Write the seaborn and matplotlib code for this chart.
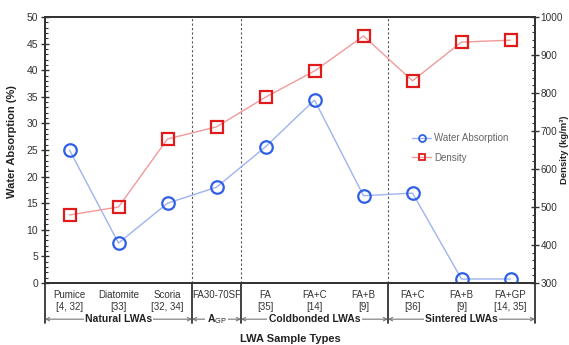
import matplotlib
matplotlib.use("Agg")
import matplotlib.pyplot as plt
import matplotlib.transforms as mtransforms
from matplotlib.lines import Line2D
from matplotlib.ticker import MultipleLocator, FixedLocator
import seaborn as sns
import pandas as pd

categories = ["Pumice\n[4, 32]", "Diatomite\n[33]", "Scoria\n[32, 34]", "FA30-70SF",
              "FA\n[35]", "FA+C\n[14]", "FA+B\n[9]", "FA+C\n[36]", "FA+B\n[9]", "FA+GP\n[14, 35]"]
water_absorption = [25.0, 7.5, 15.0, 18.0, 25.6, 34.4, 16.4, 16.9, 0.75, 0.75]
density = [479, 500, 679, 711, 789, 858, 950, 832, 934, 939]
groups = [("Natural LWAs", 0, 2), (r"$\mathbf{A}_{\mathrm{GP}}$", 3, 3),
          ("Coldbonded LWAs", 4, 6), ("Sintered LWAs", 7, 9)]

sns.set_style("white")
plt.rcParams["font.family"] = ["Liberation Sans", "DejaVu Sans"]
plt.rcParams["mathtext.fontset"] = "custom"
plt.rcParams["mathtext.rm"] = "Liberation Sans"
plt.rcParams["mathtext.bf"] = "Liberation Sans:bold"

df = pd.DataFrame({"pos": range(len(categories)), "wa": water_absorption, "den": density})

fig = plt.figure(figsize=(5.69, 3.45), dpi=100)
ax = fig.add_axes([45/569, 62/345, 490/569, 266/345])
ax2 = ax.twinx()

blue_line, blue_mk = "#9db4f0", "#2f5fe6"
red_line, red_mk = "#f29a9a", "#e01b1b"

sns.lineplot(data=df, x="pos", y="wa", ax=ax, color=blue_line, linewidth=1,
             marker="o", markersize=9, markerfacecolor="none",
             markeredgecolor=blue_mk, markeredgewidth=1.6, zorder=5)
sns.lineplot(data=df, x="pos", y="den", ax=ax2, color=red_line, linewidth=1,
             marker="s", markersize=8.5, markerfacecolor="none",
             markeredgecolor=red_mk, markeredgewidth=1.6, zorder=5)

ax.set_xlim(-0.5, 9.5)
ax.set_ylim(0, 50)
ax2.set_ylim(300, 1000)
ax.set_xlabel("")
ax.set_ylabel("")
ax2.set_xlabel("")
ax2.set_ylabel("")

spine_col = "#333333"
for a in (ax, ax2):
    for s in a.spines.values():
        s.set_color(spine_col)
        s.set_linewidth(1.3)

ax.yaxis.set_major_locator(MultipleLocator(5))
ax.yaxis.set_minor_locator(MultipleLocator(1))
ax2.yaxis.set_major_locator(MultipleLocator(100))
ax2.yaxis.set_minor_locator(MultipleLocator(20))
ax.tick_params(axis="y", which="major", direction="inout", length=6, width=1,
               labelsize=7.5, colors=spine_col, labelcolor="#333333", pad=2)
ax.tick_params(axis="y", which="minor", direction="in", length=2.5, width=0.8, colors=spine_col)
ax2.tick_params(axis="y", which="major", direction="inout", length=6, width=1,
                labelsize=7.2, colors=spine_col, labelcolor="#333333", pad=1)
ax2.tick_params(axis="y", which="minor", direction="in", length=2.5, width=0.8, colors=spine_col)

ax.set_xticks(range(len(categories)))
ax.set_xticklabels(categories, fontsize=7, color="#333333", linespacing=1.3)
ax.tick_params(axis="x", which="major", length=0, pad=5)
inner_bounds = [0.5, 1.5, 4.5, 5.5, 7.5, 8.5]
ax.xaxis.set_minor_locator(FixedLocator(inner_bounds))
ax.tick_params(axis="x", which="minor", direction="inout", length=7, width=1, colors=spine_col)

# group separators
trans = mtransforms.blended_transform_factory(ax.transData, ax.transAxes)
for b in [2.5, 3.5, 6.5]:
    ax.axvline(b, color="#555555", linestyle=(0, (2, 2)), linewidth=0.8, zorder=1)
for b in [-0.5, 2.5, 3.5, 6.5, 9.5]:
    ax.add_line(Line2D([b, b], [0, -0.15], transform=trans, color=spine_col,
                       linewidth=1.3, clip_on=False))

gy = -0.136
for name, s, e in groups:
    x0, x1 = s - 0.5, e + 0.5
    ax.annotate("", xy=(x0, gy), xytext=(x1, gy), xycoords=trans, textcoords=trans,
                arrowprops=dict(arrowstyle="<->", color="#777777", lw=0.8,
                                shrinkA=0, shrinkB=0, mutation_scale=6),
                annotation_clip=False)
    ax.text((x0 + x1) / 2, gy, name, transform=trans, ha="center", va="center",
            fontsize=7.5, fontweight="bold", color="#222222",
            bbox=dict(facecolor="white", edgecolor="none", pad=1.0), zorder=6)

ax.text(0.5, -0.21, "LWA Sample Types", transform=ax.transAxes, ha="center", va="center",
        fontsize=8, fontweight="bold", color="#222222")
fig.text(12/569, 1 - 142/345, "Water Absorption (%)", rotation=90, ha="center", va="center",
         fontsize=8, fontweight="bold", color="#222222")
fig.text(568.8/569, 1 - 150/345, "Density (kg/m³)", rotation=90, ha="right", va="center",
         fontsize=6.8, fontweight="bold", color="#222222")

handles = [Line2D([], [], color=blue_line, marker="o", markersize=5, markerfacecolor="none",
                  markeredgecolor=blue_mk, markeredgewidth=1.3, linewidth=1),
           Line2D([], [], color=red_line, marker="s", markersize=5, markerfacecolor="none",
                  markeredgecolor=red_mk, markeredgewidth=1.3, linewidth=1)]
leg = ax.legend(handles, ["Water Absorption", "Density"], loc="upper left",
                bbox_to_anchor=(0.731, 0.595), frameon=False, fontsize=7,
                handlelength=2.0, handletextpad=0.3, labelspacing=0.95)
for t in leg.get_texts():
    t.set_color("#666666")

fig.savefig("out.png", dpi=100, facecolor="white")
